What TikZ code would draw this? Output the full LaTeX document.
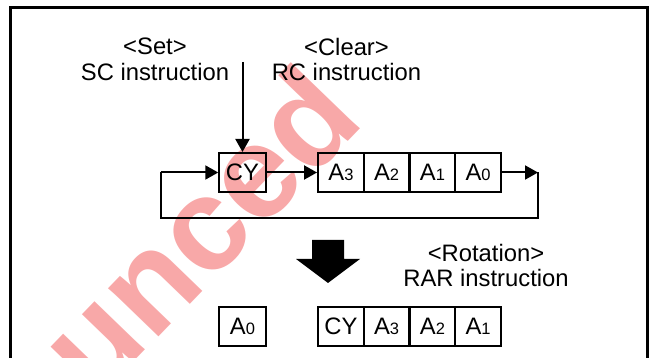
\documentclass[tikz,border=0pt]{standalone}
\usepackage{fontspec}
\setmainfont{Liberation Sans}
\usetikzlibrary{arrows.meta}
\definecolor{wmred}{RGB}{248,168,168}
\newcommand\regsub[1]{{\fontsize{16.5}{16.5}\selectfont #1}}
\begin{document}
\begin{tikzpicture}[x=1pt,y=-1pt,
  lbl/.style={font=\fontsize{23.8}{25.5}\selectfont, align=center, inner sep=0pt, anchor=north},
  cell/.style={draw, line width=2pt, minimum width=45.75pt, minimum height=39pt, inner sep=0pt, font=\fontsize{23.8}{25}\selectfont},
  arr/.style={line width=2pt, -{Triangle[length=13pt,width=14pt]}},
  wire/.style={line width=2pt},
  framebox/.style={line width=3pt},
  bigarrow/.style={fill=black},
  watermark/.style={rotate=46, anchor=base, text=wmred, font=\fontsize{132}{132}\selectfont\bfseries},
]
\path[use as bounding box] (0,0) rectangle (649,358);
\clip (0,0) rectangle (649,358);

% watermark (behind the diagram)
\node[watermark] (wm) at (231,262) {unced};

\draw[framebox] (10.8,7.5) rectangle (647.3,380);

% labels
\node[lbl] (setlbl) at (155,38) {<Set>\\SC instruction};
\node[lbl] (clrlbl) at (346.5,38) {<Clear>\\RC instruction};
\node[lbl] (rotlbl) at (486,244) {<Rotation>\\RAR instruction};

% top row
\node[cell, minimum width=46.5pt] (cy) at (242.5,172.5) {CY};
\node[cell] (a3) at (340.9,172.5) {A\regsub{3}};
\node[cell] (a2) at (386.6,172.5) {A\regsub{2}};
\node[cell] (a1) at (432.4,172.5) {A\regsub{1}};
\node[cell] (a0) at (478.1,172.5) {A\regsub{0}};

\coordinate (scin) at (242.5,62);
\coordinate (rc) at (538,172.5);
\coordinate (rb) at (538,217.7);
\coordinate (lb) at (160.5,217.7);
\coordinate (lt) at (160.5,172.5);

\draw[arr] (scin) -- (cy.north);
\draw[arr] (cy.east) -- (a3.west);
\draw[arr] (a0.east) -- (rc);
\draw[wire] (rc) -- (rb) -- (lb) -- (lt);
\draw[arr] (lt) -- (cy.west);

% big arrow
\fill[bigarrow] (312,240) -- (344,240) -- (344,259) -- (360,259) -- (328,283) -- (296,259) -- (312,259) -- cycle;

% bottom row
\node[cell, minimum width=46.5pt] (b0) at (242.5,326.5) {A\regsub{0}};
\node[cell] (bcy) at (340.9,326.5) {CY};
\node[cell] (b3) at (386.6,326.5) {A\regsub{3}};
\node[cell] (b2) at (432.4,326.5) {A\regsub{2}};
\node[cell] (b1) at (478.1,326.5) {A\regsub{1}};
\end{tikzpicture}
\end{document}
